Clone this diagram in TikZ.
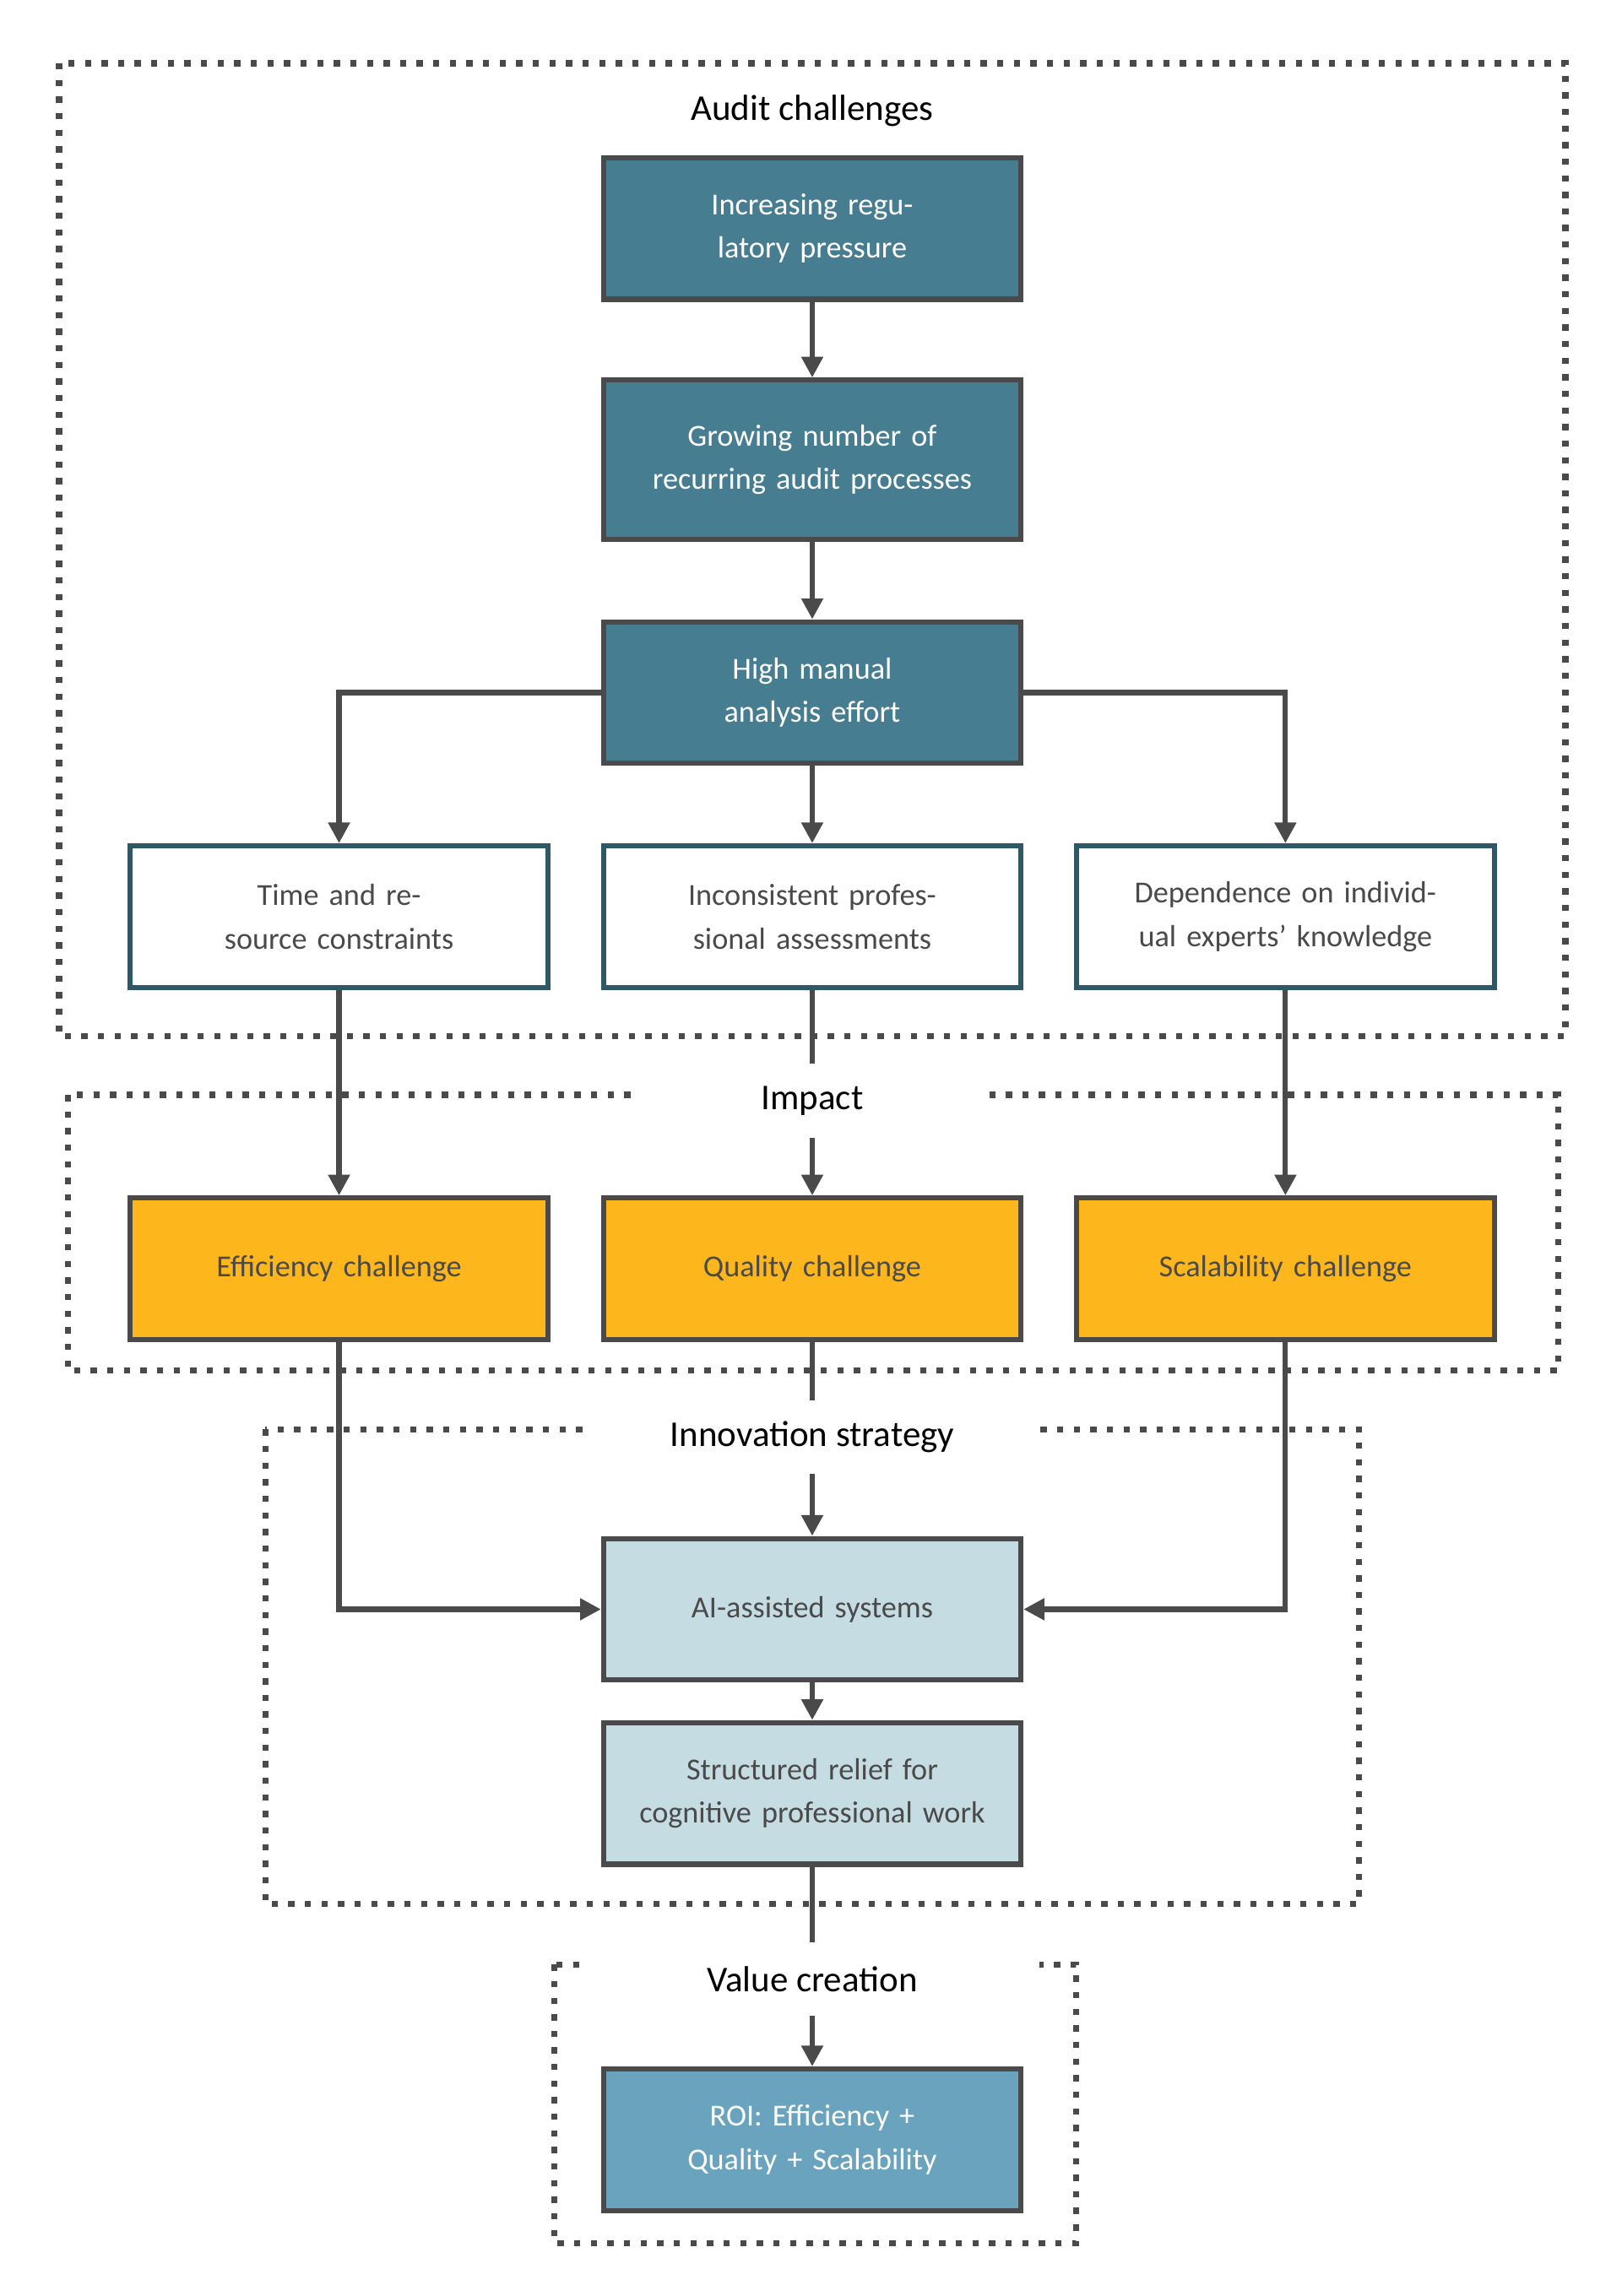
\documentclass[tikz,border=0pt]{standalone}
\usepackage{fontspec}
\setmainfont{Carlito}
\usetikzlibrary{arrows.meta}
\definecolor{myteal}{RGB}{70,125,144}
\definecolor{myorange}{RGB}{253,183,28}
\definecolor{mylight}{RGB}{197,220,227}
\definecolor{myroi}{RGB}{106,163,189}
\definecolor{mygray}{RGB}{74,74,74}
\definecolor{myedge}{RGB}{46,88,102}

\begin{document}
\begin{tikzpicture}[x=0.01cm,y=-0.01cm]

\tikzstyle{box} = [draw=mygray,line width=1pt,minimum width=2.83cm,minimum height=0.96cm,
text width=2.5cm,align=center,font=\fontsize{5.9}{8.4}\selectfont,inner sep=1pt]
\tikzstyle{teal-b} = [box,fill=myteal,text=white]
\tikzstyle{white-b} = [box,draw=myedge,fill=white,text=mygray]
\tikzstyle{orange-b} = [box,fill=myorange,text=mygray]
\tikzstyle{light-b} = [box,fill=mylight,text=mygray]
\tikzstyle{roi-b} = [box,fill=myroi,text=white]
\tikzstyle{group} = [draw=mygray,line width=1.2pt,dotted]
\tikzstyle{title} = [fill=white,font=\fontsize{7}{8}\selectfont,inner sep=0pt,minimum height=0.5cm]
\tikzstyle{link} = [draw=mygray,line width=1pt,-{Triangle[length=4pt,width=4pt]}]
\tikzstyle{plain} = [draw=mygray,line width=1pt]

\useasboundingbox (0,0) rectangle (1100,1558);

% groups
\draw[group] (40,43) rectangle (1062,703);
\draw[group] (46,743) rectangle (1057,930);
\draw[group] (180,970) rectangle (922,1292);
\draw[group] (376,1333) rectangle (730,1522);

% boxes
\node[teal-b] (inc) at (551,155) {Increasing regulatory pressure};
\node[teal-b,minimum height=1.08cm] (grow) at (551,312) {Growing number of recurring audit processes};
\node[teal-b] (high) at (551,470) {High manual\\ analysis effort};
\node[white-b] (time) at (230,622) {Time and resource constraints};
\node[white-b] (incons) at (551,622) {Inconsistent professional assessments};
\node[white-b] (dep) at (872,622) {Dependence on individual experts' knowledge};
\node[orange-b] (eff) at (230,861) {Efficiency challenge};
\node[orange-b] (qual) at (551,861) {Quality challenge};
\node[orange-b] (scal) at (872,861) {Scalability challenge};
\node[light-b] (ai) at (551,1092) {AI-assisted systems};
\node[light-b] (rel) at (551,1217) {Structured relief for cognitive professional work};
\node[roi-b] (roi) at (551,1452) {ROI: Efficiency +\\ Quality + Scalability};

% connectors
\draw[link] (inc) -- (grow);
\draw[link] (grow) -- (high);
\draw[link] (high) -- (incons);
\draw[link] (high.west) -| (time.north);
\draw[link] (high.east) -| (dep.north);
\draw[link] (time) -- (eff);
\draw[link] (dep) -- (scal);
\draw[link] (incons) -- (qual);
\draw[link] (eff.south) |- (ai.west);
\draw[link] (scal.south) |- (ai.east);
\draw[link] (qual) -- (ai);
\draw[link] (ai) -- (rel);
\draw[link] (rel) -- (roi);

% titles
\node[title] (t1) at (551,75) {Audit challenges};
\node[title,minimum width=2.33cm] (t2) at (551,747) {Impact};
\node[title,minimum width=3.08cm] (t3) at (551,975) {Innovation strategy};
\node[title,minimum width=3.08cm] (t4) at (551,1343) {Value creation};

\end{tikzpicture}
\end{document}
